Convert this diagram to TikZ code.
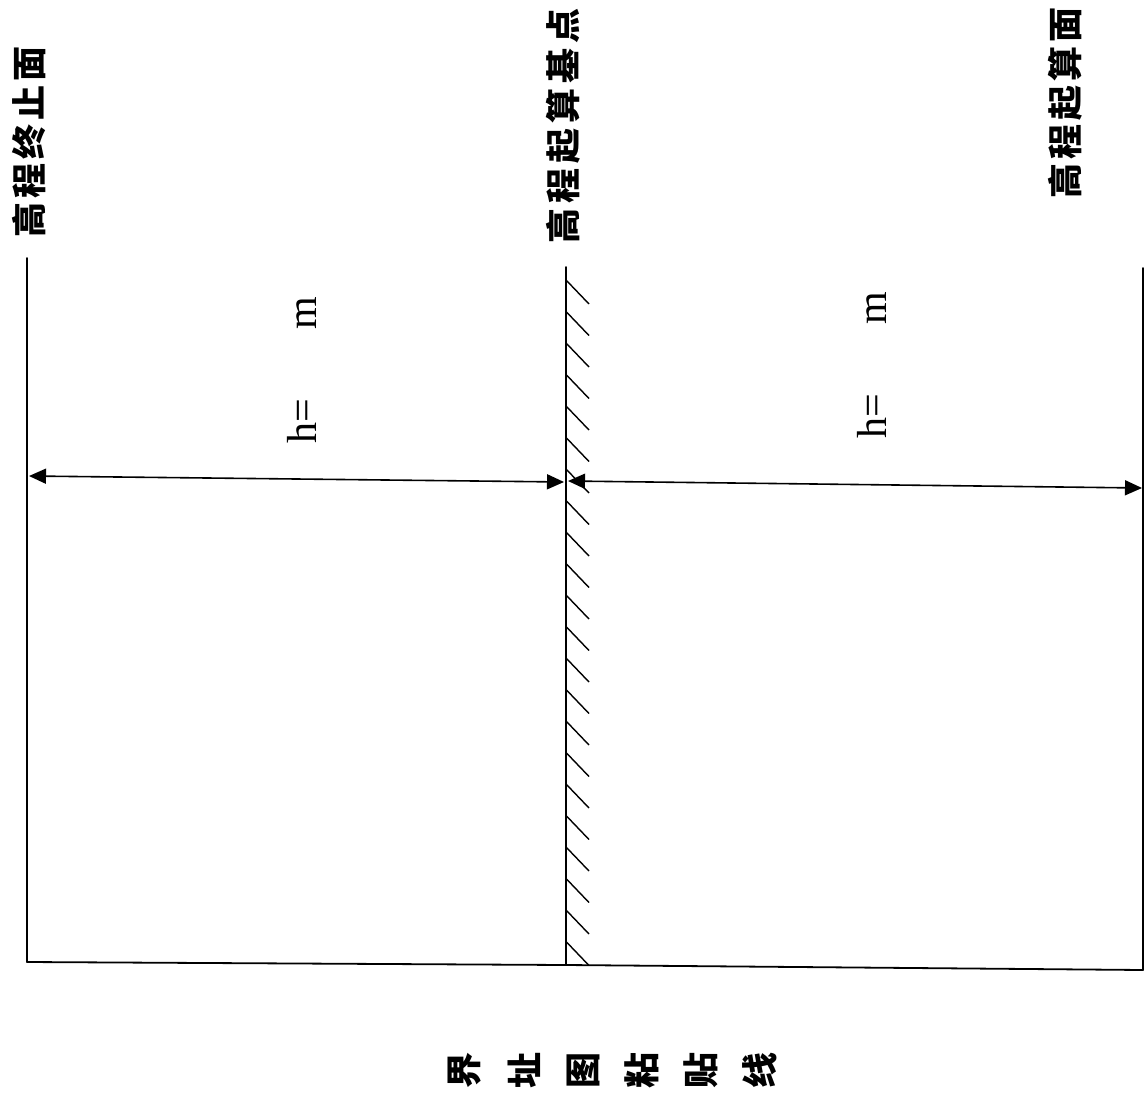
\documentclass[tikz,border=0pt]{standalone}
\usepackage{fontspec}
\setmainfont{Liberation Serif}
\newfontfamily\cjk{Noto Sans CJK SC}
\usetikzlibrary{arrows.meta}
\begin{document}
\begin{tikzpicture}[x=1pt,y=-1pt,
  frameline/.style={line width=1.8pt, line cap=round},
  hatchline/.style={line width=1.4pt},
  dimline/.style={line width=1.6pt, {Triangle[length=17pt,width=15pt]}-{Triangle[length=17pt,width=15pt]}},
  cjklabel/.style={rotate=90, inner sep=0pt, font=\cjk\bfseries\fontsize{35pt}{40pt}\selectfont},
  htext/.style={rotate=90, inner sep=0pt, anchor=base, font=\fontsize{42pt}{46pt}\selectfont},
  bottomchar/.style={rotate=90, inner sep=0pt, font=\cjk\bfseries\fontsize{36pt}{40pt}\selectfont}]
\useasboundingbox (0,0) rectangle (1146,1100);
\fill[white] (0,0) rectangle (1146,1100);
% frame coordinates
\coordinate (LT) at (27,258);
\coordinate (LB) at (27,962);
\coordinate (MT) at (566,267);
\coordinate (MB) at (566,965);
\coordinate (RT) at (1143,268);
\coordinate (RB) at (1143,970);
% lines
\draw[frameline] (LT) -- (LB);
\draw[frameline] (MT) -- (MB);
\draw[frameline] (RT) -- (RB);
\draw[frameline] (LB) -- (MB) -- (RB);
% hatching along the middle line
\foreach \k in {0,...,21}{
  \draw[hatchline] (566,{280+31.5*\k}) -- ++(23,24);
}
% dimension arrows
\coordinate (A1) at (29,476);
\coordinate (A2) at (564,482);
\coordinate (A3) at (568,481);
\coordinate (A4) at (1142,488);
\draw[dimline] (A1) -- (A2);
\draw[dimline] (A3) -- (A4);
% dimension texts
\node[htext] (h1) at (316,370) {h=\hspace{70pt}m};
\node[htext] (h2) at (886,365) {h=\hspace{70pt}m};
% labels
\node[cjklabel] (lab1) at (29,142) {高\kern4pt程\kern4pt终\kern4pt止\kern4pt面};
\node[cjklabel] (lab2) at (563,126) {高\kern5pt程\kern5pt起\kern5pt算\kern5pt基\kern5pt点};
\node[cjklabel] (lab3) at (1065,103) {高\kern4pt程\kern4pt起\kern4pt算\kern4pt面};
% bottom text
\foreach \c [count=\i from 0] in {界,址,图,粘,贴,线}{
  \node[bottomchar] (b\i) at ({465+59*\i},1070) {\c};
}
\end{tikzpicture}
\end{document}
